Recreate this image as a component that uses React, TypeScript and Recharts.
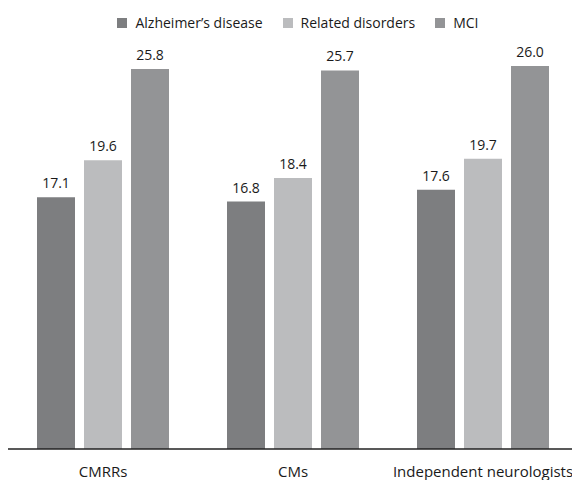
import React from 'react';
import { BarChart, Bar, XAxis, YAxis, Legend, LabelList } from 'recharts';

const categories = ['CMRRs', 'CMs', 'Independent neurologists'];
const alzheimer = [17.1, 16.8, 17.6];
const related = [19.6, 18.4, 19.7];
const mci = [25.8, 25.7, 26.0];

const seriesNames = ["Alzheimer\u2019s disease", 'Related disorders', 'MCI'];
const seriesColors = ['#7d7e80', '#bbbcbe', '#939496'];

const data = categories.map((name, i) => ({
  name,
  alz: alzheimer[i],
  rel: related[i],
  mci: mci[i],
}));

const FONT = '"Open Sans", "Noto Sans", sans-serif';

const CustomLegend = () => (
  <div style={{ display: 'flex', justifyContent: 'center', gap: 20, fontFamily: FONT, fontSize: 14, fontWeight: 500, color: '#1a1a1a' }}>
    {seriesNames.map((n, i) => (
      <div key={n} style={{ display: 'flex', alignItems: 'center' }}>
        <span style={{ width: 10, height: 10, background: seriesColors[i], display: 'inline-block', marginRight: 8 }} />
        <span>{n}</span>
      </div>
    ))}
  </div>
);

const fmt = (v: any) => Number(v).toFixed(1);

const labelStyle = { fill: '#1a1a1a', fontSize: 14, fontWeight: 500, fontFamily: FONT };

export default function App() {
  return (
    <div style={{ width: 572, height: 472, background: '#fff' }}>
      <BarChart
        width={572}
        height={472}
        data={data}
        margin={{ top: 28.6, right: 2, left: 0, bottom: 1 }}
        barSize={38}
        barGap={9}
        style={{ overflow: 'visible' }}
      >
        <XAxis
          dataKey="name"
          tickLine={false}
          axisLine={{ stroke: '#222', strokeWidth: 1.5 }}
          tickMargin={11}
          tick={{ fill: '#1a1a1a', fontSize: 15, fontWeight: 500, fontFamily: FONT }}
          interval={0}
        />
        <YAxis hide domain={[0, 28]} />
        <Legend
          verticalAlign="middle"
          align="center"
          layout="horizontal"
          wrapperStyle={{ top: 5, left: 0, width: 580 }}
          content={<CustomLegend />}
        />
        <Bar dataKey="alz" name={seriesNames[0]} fill={seriesColors[0]} isAnimationActive={false}>
          <LabelList dataKey="alz" position="top" offset={9} formatter={fmt} style={labelStyle} />
        </Bar>
        <Bar dataKey="rel" name={seriesNames[1]} fill={seriesColors[1]} isAnimationActive={false}>
          <LabelList dataKey="rel" position="top" offset={9} formatter={fmt} style={labelStyle} />
        </Bar>
        <Bar dataKey="mci" name={seriesNames[2]} fill={seriesColors[2]} isAnimationActive={false}>
          <LabelList dataKey="mci" position="top" offset={9} formatter={fmt} style={labelStyle} />
        </Bar>
      </BarChart>
    </div>
  );
}
